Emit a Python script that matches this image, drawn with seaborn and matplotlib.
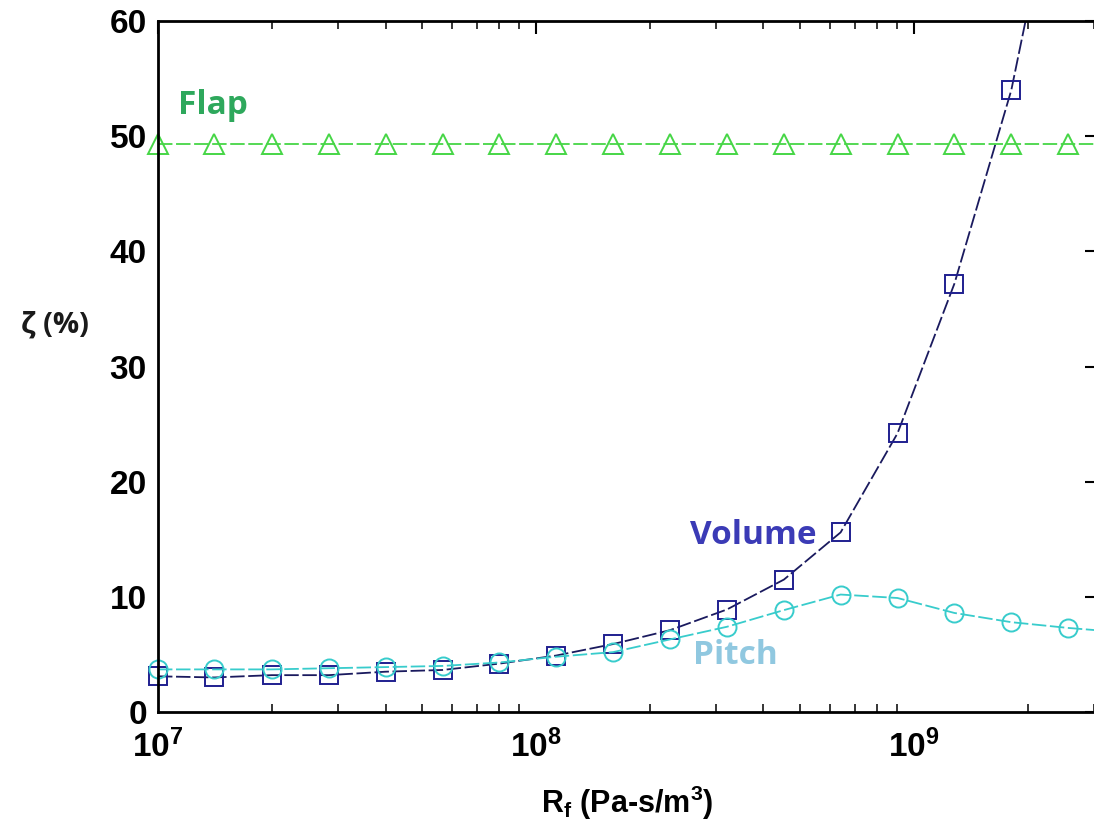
import numpy as np
import pandas as pd
import matplotlib
matplotlib.use("Agg")
import matplotlib.pyplot as plt
import matplotlib.ticker as mticker
import seaborn as sns

# values
rf = [1.0e7, 1.41e7, 2.0e7, 2.83e7, 4.0e7, 5.66e7, 8.0e7, 1.13e8, 1.6e8,
      2.26e8, 3.2e8, 4.53e8, 6.4e8, 9.05e8, 1.28e9, 1.81e9, 2.56e9, 3.62e9]
volume = [3.1, 3.0, 3.2, 3.2, 3.5, 3.65, 4.2, 4.9, 5.9,
          7.1, 8.9, 11.5, 15.6, 24.2, 37.2, 54.0, 78.0, 112.0]
pitch = [3.7, 3.7, 3.7, 3.8, 3.9, 4.0, 4.3, 4.8, 5.2,
         6.3, 7.4, 8.85, 10.2, 9.9, 8.6, 7.8, 7.3, 6.9]
flap = [49.3] * 18

YMAX = 60

sns.set_theme(style="white")
plt.rcParams["font.family"] = ["Liberation Sans", "DejaVu Sans"]
plt.rcParams["mathtext.fontset"] = "custom"
plt.rcParams["mathtext.rm"] = "Liberation Sans:bold"
plt.rcParams["mathtext.bf"] = "Liberation Sans:bold"
plt.rcParams["mathtext.it"] = "Liberation Sans:bold:italic"

df = pd.DataFrame({"rf": rf, "Volume": volume, "Pitch": pitch, "Flap": flap})

fig = plt.figure(figsize=(10.94, 8.35), dpi=100)
ax = fig.add_axes([0.1444, 0.1473, 0.8583, 0.8275])

series = [
    ("Volume", "#1a1a5e", "#1f1f8f", "s", 13),
    ("Pitch", "#38cccc", "#38cccc", "o", 13),
    ("Flap", "#46d646", "#46d646", "^", 15),
]
dash = (0, (8, 2))
for name, lc, mc, mk, ms in series:
    sns.lineplot(data=df, x="rf", y=name, ax=ax, color=lc, linewidth=1.3,
                 linestyle=dash, errorbar=None)
    shown = df[df[name] <= YMAX]
    sns.lineplot(data=shown, x="rf", y=name, ax=ax, linestyle="none",
                 marker=mk, markersize=ms, markerfacecolor="none",
                 markeredgecolor=mc, markeredgewidth=1.4, errorbar=None,
                 clip_on=False)

ax.set_xscale("log")
ax.set_xlim(1e7, 3.05e9)
ax.set_ylim(0, YMAX)
ax.set_yticks(range(0, 61, 10))

ax.xaxis.set_major_locator(mticker.LogLocator(base=10))
ax.xaxis.set_minor_locator(mticker.LogLocator(base=10, subs=np.arange(2, 10)))
ax.xaxis.set_major_formatter(mticker.FuncFormatter(
    lambda v, p: r"$\mathbf{10^{%d}}$" % round(np.log10(v))))
ax.xaxis.set_minor_formatter(mticker.NullFormatter())

ax.tick_params(axis="both", which="major", direction="in", length=9, width=1.5,
               labelsize=24, colors="black", top=True, right=True, pad=8)
ax.tick_params(axis="x", which="minor", direction="in", length=6, width=1.3,
               top=True, bottom=True)
ax.tick_params(axis="x", which="major", pad=13)
for lab in ax.get_yticklabels():
    lab.set_fontweight("bold")

for s in ax.spines.values():
    s.set_color("black")
    s.set_linewidth(2)

ax.set_xlabel(r"$\mathbf{R_f}$ (Pa-s/m$^\mathbf{3}$)", fontsize=22,
              fontweight="bold", color="black", labelpad=14)
ax.set_ylabel("ζ (%)", fontsize=21, fontweight="bold", rotation=0,
              color="#1a1a1a", family=["Open Sans", "DejaVu Sans"],
              ha="center", va="center")
ax.yaxis.set_label_coords(-0.11, 0.56)

lab_font = dict(fontsize=24, fontweight="bold", family=["Open Sans", "DejaVu Sans"],
                va="center", ha="left")
ax.text(1.13e7, 52.7, "Flap", color="#2ea85c", **lab_font)
ax.text(2.55e8, 15.3, "Volume", color="#3b3bb6", **lab_font)
ax.text(2.6e8, 4.9, "Pitch", color="#90c8e0", **lab_font)

fig.savefig("out.png", dpi=100)
